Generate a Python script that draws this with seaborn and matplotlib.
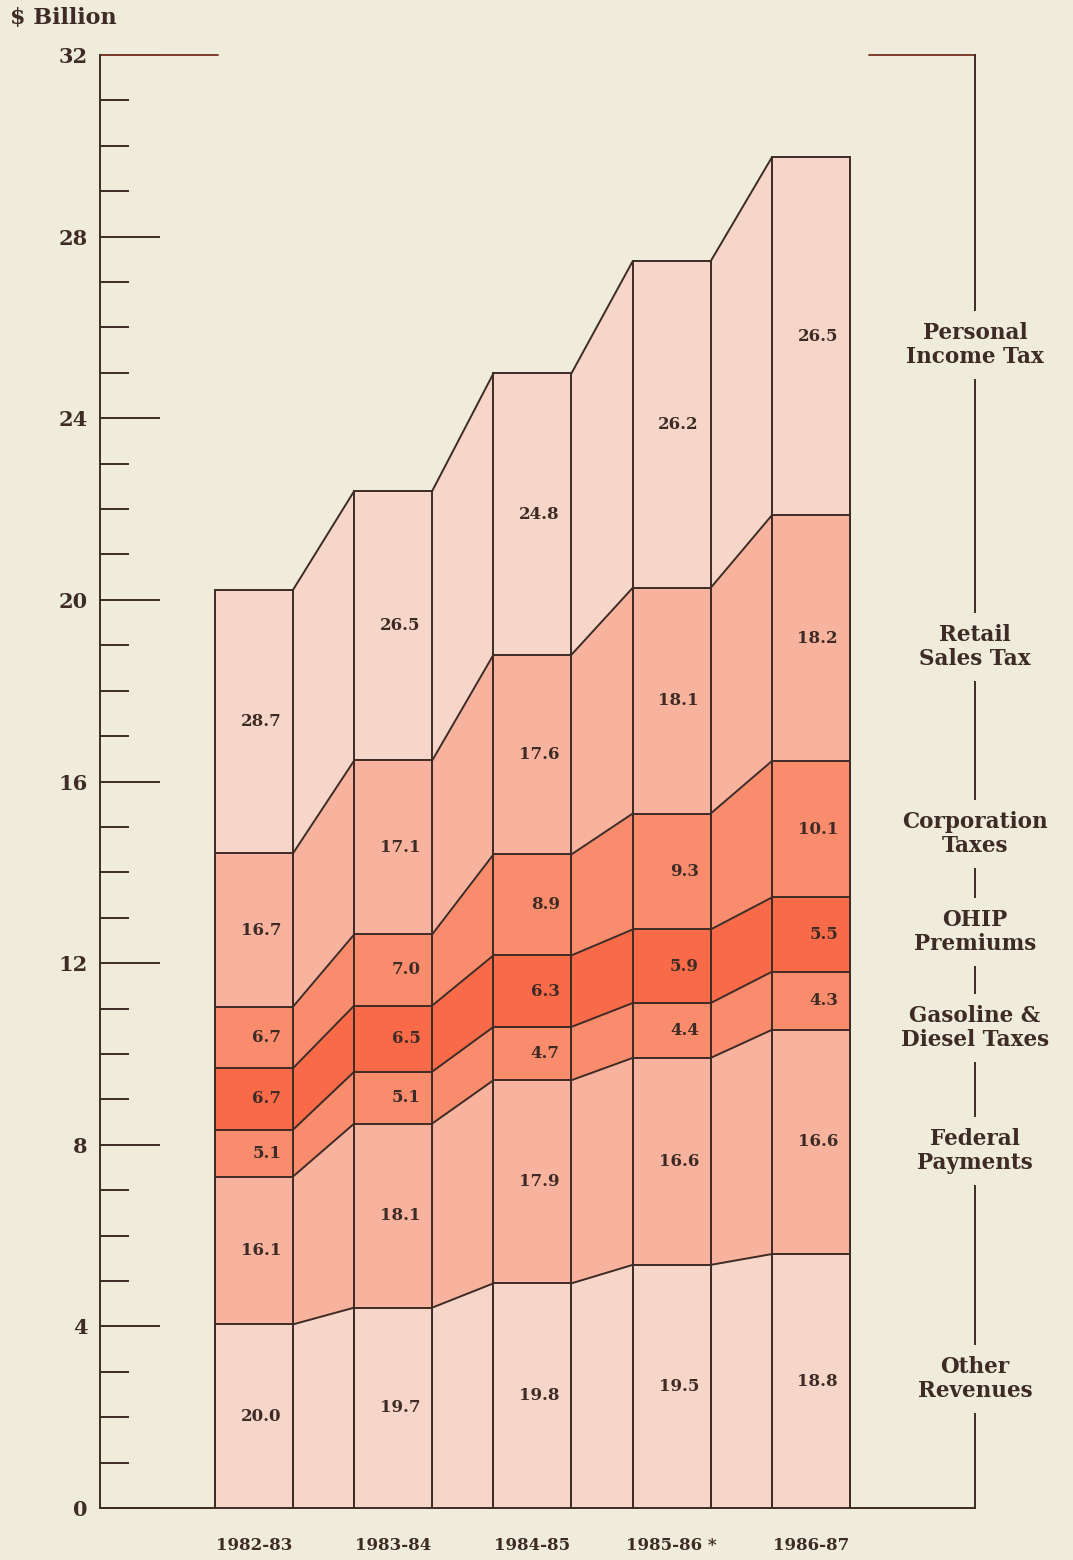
import numpy as np
import pandas as pd
import matplotlib.pyplot as plt
from matplotlib.ticker import MultipleLocator
import seaborn as sns

bg = '#efecdc'
ink = '#3e2b26'
sns.set_theme(style="white", rc={'figure.facecolor': bg, 'axes.facecolor': bg})
plt.rcParams['font.family'] = ['DejaVu Serif']

# data
years = ['1982-83', '1983-84', '1984-85', '1985-86 *', '1986-87']
totals = [20.22, 22.40, 24.99, 27.46, 29.75]  # $ billion
layers = ['Other\nRevenues', 'Federal\nPayments', 'Gasoline &\nDiesel Taxes',
          'OHIP\nPremiums', 'Corporation\nTaxes', 'Retail\nSales Tax',
          'Personal\nIncome Tax']
other = [20.0, 19.7, 19.8, 19.5, 18.8]
federal = [16.1, 18.1, 17.9, 16.6, 16.6]
gasoline = [5.1, 5.1, 4.7, 4.4, 4.3]
ohip = [6.7, 6.5, 6.3, 5.9, 5.5]
corporation = [6.7, 7.0, 8.9, 9.3, 10.1]
retail = [16.7, 17.1, 17.6, 18.1, 18.2]
personal = [28.7, 26.5, 24.8, 26.2, 26.5]
pcts = [other, federal, gasoline, ohip, corporation, retail, personal]

light, medium, dark, darkest = '#f6d6c8', '#f8b39e', '#f98c6c', '#f96b48'
colors = [light, medium, dark, darkest, dark, medium, light]

pct = np.array(pcts)
dollars = pct / 100.0 * np.array(totals)
tops = np.cumsum(dollars, axis=0)
bots = tops - dollars

fig = plt.figure(figsize=(10.73, 15.60), dpi=100)
ax = fig.add_axes([100 / 1073, 1 - 1508 / 1560, 875 / 1073, 1453 / 1560])

w = 0.56
# stacked bars: draw cumulative tops from tallest to lowest
for k in range(len(layers) - 1, -1, -1):
    df = pd.DataFrame({'year': years, 'val': tops[k]})
    sns.barplot(data=df, x='year', y='val', color=colors[k], saturation=1,
                width=w, edgecolor=ink, linewidth=1.4, errorbar=None, ax=ax, zorder=3)

# connecting bands between bars
for i in range(len(years) - 1):
    xs = [i + w / 2, i + 1 - w / 2]
    for k in range(len(layers)):
        ax.fill_between(xs, [bots[k][i], bots[k][i + 1]], [tops[k][i], tops[k][i + 1]],
                        color=colors[k], linewidth=0, zorder=2)
        ax.plot(xs, [tops[k][i], tops[k][i + 1]], color=ink, lw=1.4, zorder=3)

# value labels
for k in range(len(layers)):
    for i in range(len(years)):
        ax.text(i + w / 2 - 0.085, (bots[k][i] + tops[k][i]) / 2, f'{pcts[k][i]:.1f}',
                ha='right', va='center', fontsize=12, fontweight='bold', color=ink, zorder=5)

# side labels, centred on last bar's segments
nudge = [0.05, -0.2, -0.6, 0.05, -0.1, -0.2, -0.2]
for k in range(len(layers)):
    yc = (bots[k][-1] + tops[k][-1]) / 2 + nudge[k]
    ax.text(5.178, yc, layers[k], ha='center', va='center', fontsize=15.5,
            fontweight='bold', color=ink, linespacing=1.1, zorder=6, clip_on=False,
            bbox=dict(facecolor=bg, edgecolor='none', pad=8))

ax.set_xlim(-1.106, 5.178)
ax.set_ylim(0, 32)
ax.yaxis.set_major_locator(MultipleLocator(4))
ax.yaxis.set_minor_locator(MultipleLocator(1))
ax.tick_params(axis='y', which='major', direction='in', length=43, width=1.4,
               color=ink, pad=9, labelsize=15, labelcolor=ink, left=True)
ax.tick_params(axis='y', which='minor', direction='in', length=21, width=1.4,
               color=ink, left=True)
for t in ax.get_yticklabels():
    t.set_fontweight('bold')
ax.set_xticks(range(len(years)))
ax.set_xticklabels(years, fontsize=12, fontweight='bold', color=ink)
ax.tick_params(axis='x', length=0, pad=21)
ax.set_xlabel('')
ax.set_ylabel('')

for s in ['left', 'bottom', 'right']:
    ax.spines[s].set_color(ink)
    ax.spines[s].set_linewidth(1.4)
ax.spines['top'].set_visible(False)

# top caps of the frame
ax.plot([-1.106, -0.259], [32, 32], color='#7a3e2e', lw=1.4, clip_on=False)
ax.plot([4.417, 5.178], [32, 32], color='#7a3e2e', lw=1.4, clip_on=False)

fig.text(10 / 1073, 1 - 18 / 1560, '$ Billion', ha='left', va='center',
         fontsize=16, fontweight='bold', color=ink)

fig.savefig('out.png', dpi=100, facecolor=bg)
